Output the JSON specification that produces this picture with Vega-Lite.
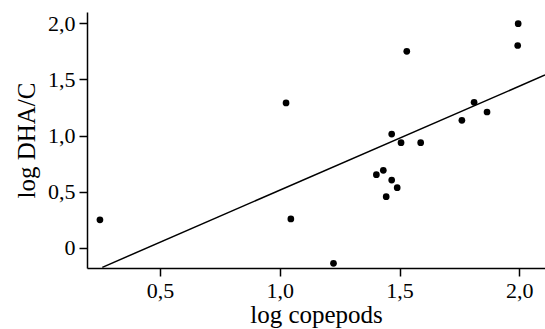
{
  "$schema": "https://vega.github.io/schema/vega-lite/v6.json",
  "autosize": "none",
  "width": 458,
  "height": 256,
  "padding": {"left": 87, "top": 12, "right": 0, "bottom": 61},
  "background": "white",
  "config": {
    "view": {"stroke": null},
    "font": "Liberation Serif",
    "axis": {
      "grid": false,
      "domainColor": "black",
      "domainWidth": 1.5,
      "tickColor": "black",
      "tickWidth": 1.5,
      "tickSize": 8,
      "labelColor": "black",
      "titleColor": "black",
      "labelFont": "Liberation Serif",
      "titleFont": "Liberation Serif",
      "labelFontSize": 22,
      "titleFontSize": 25,
      "titleFontWeight": "normal",
      "labelPadding": 4
    }
  },
  "datasets": {
    "points": [
      {"x": 0.249, "y": 0.25},
      {"x": 1.026, "y": 1.29},
      {"x": 1.046, "y": 0.258},
      {"x": 1.224, "y": -0.136},
      {"x": 1.403, "y": 0.652},
      {"x": 1.432, "y": 0.69},
      {"x": 1.467, "y": 0.604},
      {"x": 1.49, "y": 0.536},
      {"x": 1.444, "y": 0.456},
      {"x": 1.53, "y": 1.748},
      {"x": 1.995, "y": 1.994},
      {"x": 1.993, "y": 1.8},
      {"x": 1.467, "y": 1.013},
      {"x": 1.506, "y": 0.936},
      {"x": 1.588, "y": 0.936},
      {"x": 1.76, "y": 1.135},
      {"x": 1.811, "y": 1.295},
      {"x": 1.865, "y": 1.209}
    ],
    "fit": [
      {"x": 0.259, "y": -0.172},
      {"x": 2.107, "y": 1.538}
    ]
  },
  "layer": [
    {
      "data": {"name": "fit"},
      "mark": {"type": "line", "color": "black", "strokeWidth": 1.5},
      "encoding": {
        "x": {"field": "x", "type": "quantitative", "scale": {"domain": [0.195, 2.107], "nice": false, "zero": false},
          "axis": {"values": [0.5, 1.0, 1.5, 2.0], "title": "log copepods", "titlePadding": 1,
            "labelExpr": "datum.value == 0 ? '0' : replace(format(datum.value, '.1f'), '.', ',')"}},
        "y": {"field": "y", "type": "quantitative", "scale": {"domain": [-0.178, 2.098], "nice": false, "zero": false},
          "axis": {"values": [0, 0.5, 1.0, 1.5, 2.0], "title": "log DHA/C", "titlePadding": 8,
            "labelExpr": "datum.value == 0 ? '0' : replace(format(datum.value, '.1f'), '.', ',')"}}
      }
    },
    {
      "data": {"name": "points"},
      "mark": {"type": "circle", "color": "black", "opacity": 1, "size": 45},
      "encoding": {
        "x": {"field": "x", "type": "quantitative"},
        "y": {"field": "y", "type": "quantitative"}
      }
    }
  ]
}
